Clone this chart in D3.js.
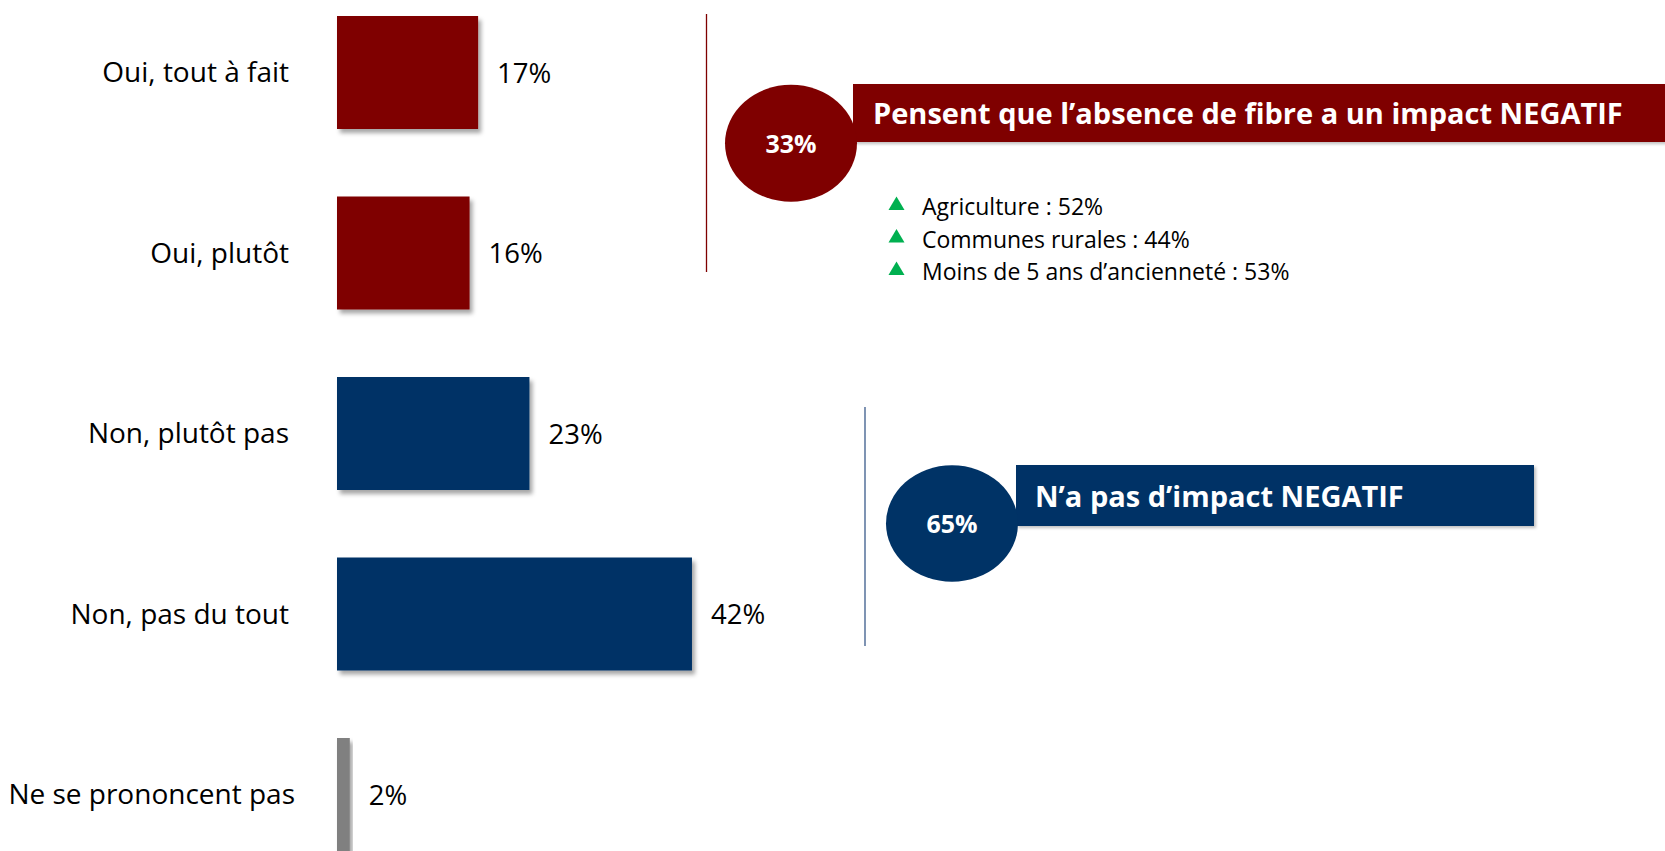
<!DOCTYPE html>
<html>
<head>
<meta charset="utf-8">
<script src="https://cdn.jsdelivr.net/npm/d3@7"></script>
<style>
  html, body { margin: 0; padding: 0; background: #ffffff; overflow: hidden; }
  svg { display: block; font-family: "Open Sans", "Noto Sans", sans-serif; }
</style>
</head>
<body>
<svg id="chart" width="1665" height="851"></svg>
<script>
// ---- data ----
const categories = ["Oui, tout à fait", "Oui, plutôt", "Non, plutôt pas", "Non, pas du tout", "Ne se prononcent pas"];
const values = [17, 16, 23, 42, 2];
const barGroups = ["oui", "oui", "non", "non", "nsp"];
const valueLabels = ["17%", "16%", "23%", "42%", "2%"];

const summaryPercents = ["33%", "65%"];
const summaryTitles = ["Pensent que l’absence de fibre a un impact NEGATIF", "N’a pas d’impact NEGATIF"];
const summaryGroups = ["oui", "non"];

const bulletItems = ["Agriculture : 52%", "Communes rurales : 44%", "Moins de 5 ans d’ancienneté : 53%"];

// ---- styles ----
const colorOf = { oui: "#7f0000", non: "#003366", nsp: "#808080" };

const svg = d3.select("#chart");

const defs = svg.append("defs");
const f = defs.append("filter").attr("id", "shadow")
  .attr("x", "-10%").attr("y", "-10%").attr("width", "130%").attr("height", "130%");
f.append("feDropShadow").attr("dx", 3).attr("dy", 4).attr("stdDeviation", 2.2)
  .attr("flood-color", "#000").attr("flood-opacity", 0.35);
const f2 = defs.append("filter").attr("id", "shadow2")
  .attr("x", "-5%").attr("y", "-10%").attr("width", "110%").attr("height", "130%");
f2.append("feDropShadow").attr("dx", 2).attr("dy", 2).attr("stdDeviation", 1.5)
  .attr("flood-color", "#000").attr("flood-opacity", 0.25);

// ---- scales ----
const plotLeft = 337;
const x = d3.scaleLinear().domain([0, 100]).range([332.7, 1188.1]);
const y = d3.scaleBand().domain(categories)
  .range([-17.75, 884.75]).paddingInner(0.374).paddingOuter(0.187);

const data = categories.map((c, i) => ({ cat: c, v: values[i], g: barGroups[i], lab: valueLabels[i] }));

// bars
svg.append("g").selectAll("rect").data(data).join("rect")
  .attr("x", plotLeft)
  .attr("y", d => y(d.cat))
  .attr("width", d => x(d.v) - plotLeft)
  .attr("height", y.bandwidth())
  .attr("fill", d => colorOf[d.g])
  .attr("filter", "url(#shadow)");

// category labels
svg.append("g").selectAll("text").data(data).join("text")
  .attr("x", d => d.g === "nsp" ? 295 : 289)
  .attr("y", d => y(d.cat) + y.bandwidth() / 2 + 9.5)
  .attr("text-anchor", "end")
  .attr("font-size", 28)
  .attr("fill", "#000")
  .text(d => d.cat);

// value labels
svg.append("g").selectAll("text").data(data).join("text")
  .attr("x", d => x(d.v) + 19)
  .attr("y", d => y(d.cat) + y.bandwidth() / 2 + 10)
  .attr("font-size", 27.5)
  .attr("fill", "#000")
  .text(d => d.lab);

// ---- summary callouts ----
const callouts = [
  { line: [706.5, 14, 272], rect: [853, 84, 1670, 142], ell: [791, 143.3, 66, 58.5], pctY: 153, titleX: 873, titleY: 124 },
  { line: [865, 407, 646], rect: [1016, 465, 1534, 526], ell: [952, 523.5, 66, 58.3], pctY: 533, titleX: 1035, titleY: 507 }
];

callouts.forEach((c, i) => {
  const col = colorOf[summaryGroups[i]];
  const g = svg.append("g");
  g.append("line")
    .attr("x1", c.line[0]).attr("x2", c.line[0])
    .attr("y1", c.line[1]).attr("y2", c.line[2])
    .attr("stroke", i === 0 ? "#7f0000" : "#3a5a8a").attr("stroke-width", 1.3);
  g.append("rect")
    .attr("x", c.rect[0]).attr("y", c.rect[1])
    .attr("width", c.rect[2] - c.rect[0]).attr("height", c.rect[3] - c.rect[1])
    .attr("fill", col).attr("filter", "url(#shadow2)");
  g.append("ellipse")
    .attr("cx", c.ell[0]).attr("cy", c.ell[1])
    .attr("rx", c.ell[2]).attr("ry", c.ell[3])
    .attr("fill", col);
  g.append("text")
    .attr("x", c.ell[0]).attr("y", c.pctY)
    .attr("text-anchor", "middle")
    .attr("font-size", 25).attr("font-weight", "bold")
    .attr("fill", "#fff")
    .text(summaryPercents[i]);
  g.append("text")
    .attr("x", c.titleX).attr("y", c.titleY)
    .attr("font-size", 29).attr("font-weight", "bold")
    .attr("fill", "#fff")
    .text(summaryTitles[i]);
});

// ---- bullets ----
const bullets = svg.append("g");
const bulletY = d3.scaleBand().domain(bulletItems).range([182.5, 280]).paddingInner(0).paddingOuter(0);
bullets.selectAll("path").data(bulletItems).join("path")
  .attr("d", d => {
    const cx = 896.5, base = bulletY(d) + bulletY.bandwidth();
    return `M${cx - 8},${base - 5} L${cx + 8},${base - 5} L${cx},${base - 18.5} Z`;
  })
  .attr("fill", "#00b050");
bullets.selectAll("text").data(bulletItems).join("text")
  .attr("x", 922)
  .attr("y", d => bulletY(d) + bulletY.bandwidth())
  .attr("font-size", 23)
  .attr("fill", "#000")
  .text(d => d);
</script>
</body>
</html>
